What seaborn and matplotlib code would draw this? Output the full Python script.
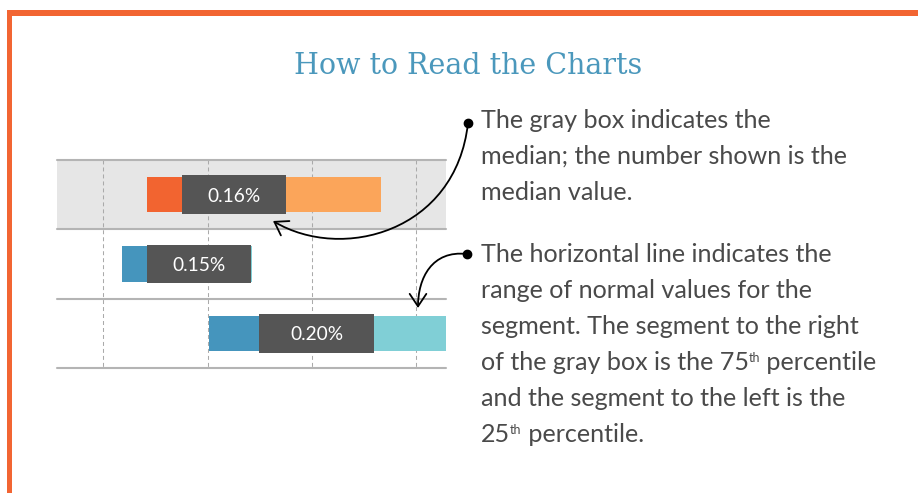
import numpy as np
import matplotlib
matplotlib.use("Agg")
import matplotlib.pyplot as plt
import seaborn as sns
from matplotlib.path import Path
from matplotlib.patches import FancyArrowPatch, Rectangle

# ---------------- data ----------------
rows = ["Row A", "Row B", "Row C"]
p25_start = [0.1208, 0.1088, 0.1507]      # start of the 25th-percentile segment
median_pos = [0.1626, 0.1458, 0.2023]     # median (split point)
p75_end = [0.2333, 0.1715, 0.2750]        # end of the 75th-percentile segment
box_lo = [0.1376, 0.1208, 0.1747]         # gray median box
box_hi = [0.1875, 0.1707, 0.2299]
median_labels = ["0.16%", "0.15%", "0.20%"]
grid_vals = [0.10, 0.15, 0.20, 0.25]
left_colors = ["#F26430", "#4595BD", "#4595BD"]
right_colors = ["#FBA55A", "#80CFD6", "#80CFD6"]
box_color = "#555555"

title = "How to Read the Charts"
note1_lines = [
    [("The gray box indicates the", False)],
    [("median; the number shown is the", False)],
    [("median value.", False)],
]
note2_lines = [
    [("The horizontal line indicates the", False)],
    [("range of normal values for the", False)],
    [("segment. The segment to the right", False)],
    [("of the gray box is the 75", False), ("th", True), (" percentile", False)],
    [("and the segment to the left is the", False)],
    [("25", False), ("th", True), (" percentile.", False)],
]

# ---------------- style ----------------
sns.set_style("white")
plt.rcParams["font.family"] = ["Lato", "DejaVu Sans"]

W, H = 918, 493
fig = plt.figure(figsize=(W / 100, H / 100), dpi=100)
fig.patch.set_facecolor("white")

ax = fig.add_axes([57 / W, 1 - 368 / H, 389 / W, 208 / H])
ax.axhspan(-0.5, 0.5, color="#E6E6E6", lw=0, zorder=0)


def segments(starts, ends, colors, thickness, z):
    n0 = len(ax.patches)
    widths = np.array(ends) - np.array(starts)
    sns.barplot(x=widths, y=rows, left=np.array(starts), orient="h",
                width=thickness, color=colors[0], saturation=1,
                errorbar=None, linewidth=0, ax=ax, zorder=z)
    for p, c in zip(ax.patches[n0:], colors):
        p.set_facecolor(c)
        p.set_edgecolor("none")


segments(p25_start, median_pos, left_colors, 0.505, 3)
segments(median_pos, p75_end, right_colors, 0.505, 3)
segments(box_lo, box_hi, [box_color] * 3, 0.555, 4)

renderer = fig.canvas.get_renderer()


def fit(t, target):
    w = t.get_window_extent(renderer).width
    t.set_fontsize(t.get_fontsize() * target / w)
    return t.get_fontsize()


lab_texts = []
for i, lab in enumerate(median_labels):
    lab_texts.append(ax.text((box_lo[i] + box_hi[i]) / 2, i + 0.02, lab,
                             ha="center", va="center", color="white",
                             fontsize=13, fontweight="normal", zorder=6))

ax.vlines(grid_vals, -0.5, 2.5, colors="#AAAAAA", linestyles=(0, (3.8, 2.9)),
          lw=0.75, zorder=1)
for yv in [-0.5, 0.5, 1.5, 2.5]:
    ax.axhline(yv, color="#B4B4B4", lw=1.5, zorder=2, clip_on=False)

ax.set_xlim(0.0778, 0.2644)
ax.set_ylim(2.5, -0.5)
ax.set_xlabel("")
ax.set_ylabel("")
ax.set_axis_off()

lab_fs = fit(lab_texts[0], 53)
for t in lab_texts:
    t.set_fontsize(lab_fs)

# ---------------- overlay in pixel coordinates ----------------
ov = fig.add_axes([0, 0, 1, 1])
ov.set_xlim(0, W)
ov.set_ylim(H, 0)
ov.set_axis_off()
ov.patch.set_alpha(0)

orange = "#F26532"
ov.add_patch(Rectangle((7, 10), 5.3, H, color=orange, lw=0))
ov.add_patch(Rectangle((7, 10), W, 6, color=orange, lw=0))

tt = ov.text(468, 74, title, ha="center", va="baseline", color="#4B98BC",
             family="DejaVu Serif", fontsize=20)
fit(tt, 348)

probe = ov.text(0, 0, note1_lines[0][0][0], fontsize=16)
fs = fit(probe, 292)
probe.remove()

text_color = "#4A4A4A"


def rich(x, y, pieces):
    for txt, sup in pieces:
        t = ov.text(x, y - (8 if sup else 0), txt, fontsize=fs * (0.5 if sup else 1),
                    ha="left", va="baseline", color=text_color)
        x = t.get_window_extent(renderer).x1


for k, line in enumerate(note1_lines):
    rich(481, 128 + 36 * k, line)
for k, line in enumerate(note2_lines):
    rich(481, 262 + 36 * k, line)

# arrows
arrow_paths = [
    [(468, 123), (456, 232), (342, 262), (273, 221)],
    [(467, 254), (432, 250), (418, 278), (418, 308)],
]
for verts in arrow_paths:
    path = Path(verts, [Path.MOVETO, Path.CURVE4, Path.CURVE4, Path.CURVE4])
    arr = FancyArrowPatch(path=path, arrowstyle="->,head_length=0.45,head_width=0.3",
                          mutation_scale=20, lw=1.3, color="black")
    ov.add_patch(arr)
    ov.plot(verts[0][0], verts[0][1], "o", ms=6, color="black")

fig.savefig("out.png", dpi=100)
